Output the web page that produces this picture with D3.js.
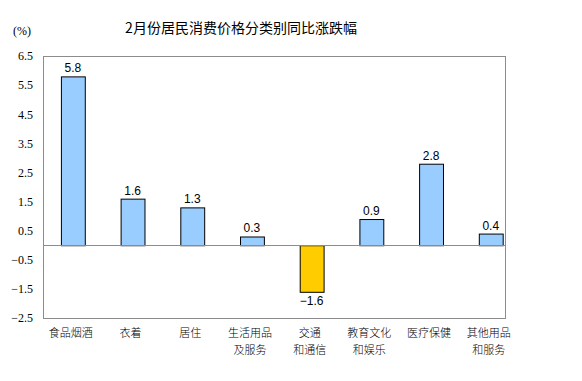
<!DOCTYPE html>
<html><head><meta charset="utf-8">
<script src="https://cdn.jsdelivr.net/npm/d3@7"></script>
<style>body{margin:0;background:#fff}</style>
</head><body>
<svg id="c" width="582" height="381"></svg>
<script>
const categories = [["食品烟酒"],["衣着"],["居住"],["生活用品","及服务"],["交通","和通信"],["教育文化","和娱乐"],["医疗保健"],["其他用品","和服务"]];
const values = [5.8, 1.6, 1.3, 0.3, -1.6, 0.9, 2.8, 0.4];
const yTicks = [6.5, 5.5, 4.5, 3.5, 2.5, 1.5, 0.5, -0.5, -1.5, -2.5];
const title = "2月份居民消费价格分类别同比涨跌幅";
const unit = "(%)";

const svg = d3.select("#c");
const L = 43, R = 505, T = 56, B = 318;
const x = d3.scaleBand().domain(d3.range(values.length)).range([L, L + 8 * 59.7]).paddingInner(0.6).paddingOuter(0.3);
const y = d3.scaleLinear().domain([-2.5, 6.5]).range([B, T]);

svg.append("text").attr("x", 241).attr("y", 33).attr("text-anchor", "middle")
  .attr("font-family", "'Noto Sans CJK SC', sans-serif").attr("font-size", 14).attr("fill", "#000").text(title);
svg.append("text").attr("x", 22).attr("y", 35).attr("text-anchor", "middle")
  .style("font-family", "'Liberation Serif', serif").attr("font-size", 12).text(unit);

// frame
svg.append("rect").attr("x", L + 0.5).attr("y", T + 0.5).attr("width", R - L).attr("height", B - T)
  .attr("fill", "none").attr("stroke", "#8c8c8c").attr("stroke-width", 1);

// y axis labels
const ya = svg.append("g").attr("transform", `translate(${L},0)`)
  .call(d3.axisLeft(y).tickValues(yTicks).tickSize(0).tickPadding(10).tickFormat(d3.format(".1f")));
ya.select(".domain").remove();
ya.attr("font-family", null).attr("font-size", null);
ya.selectAll("text").style("font-family", "'Liberation Serif', 'Times New Roman', serif").style("font-size", "12px").attr("fill", "#000");

// bars
svg.selectAll("rect.bar").data(values).join("rect").attr("class", "bar")
  .attr("x", (d, i) => x(i) + 0.5).attr("width", x.bandwidth())
  .attr("y", d => y(Math.max(0, d)) + 0.5).attr("height", d => Math.abs(y(d) - y(0)))
  .attr("fill", d => d < 0 ? "#ffcc00" : "#99ccff").attr("stroke", "#000").attr("stroke-width", 1);

// zero line
svg.append("line").attr("x1", L).attr("x2", R).attr("y1", Math.round(y(0)) + 0.5).attr("y2", Math.round(y(0)) + 0.5)
  .attr("stroke", "#8c8c8c");

// value labels
svg.selectAll("text.val").data(values).join("text").attr("class", "val")
  .attr("x", (d, i) => x(i) + x.bandwidth() / 2)
  .attr("y", d => d >= 0 ? y(d) - 4 : y(d) + 13)
  .attr("text-anchor", "middle").attr("font-family", "'Liberation Sans', Arial, sans-serif").attr("font-size", 12)
  .text(d => d3.format(".1f")(d));

// category labels
const cg = svg.selectAll("text.cat").data(categories).join("text").attr("class", "cat")
  .attr("text-anchor", "middle").attr("font-family", "'Noto Sans CJK SC', sans-serif").attr("font-size", 11).attr("font-weight", 300);
cg.each(function(d, i) {
  const t = d3.select(this);
  d.forEach((line, j) => {
    t.append("tspan").attr("x", x(i) + x.bandwidth() / 2 - 2).attr("y", 337 + j * 17).text(line);
  });
});
</script>
</body></html>
